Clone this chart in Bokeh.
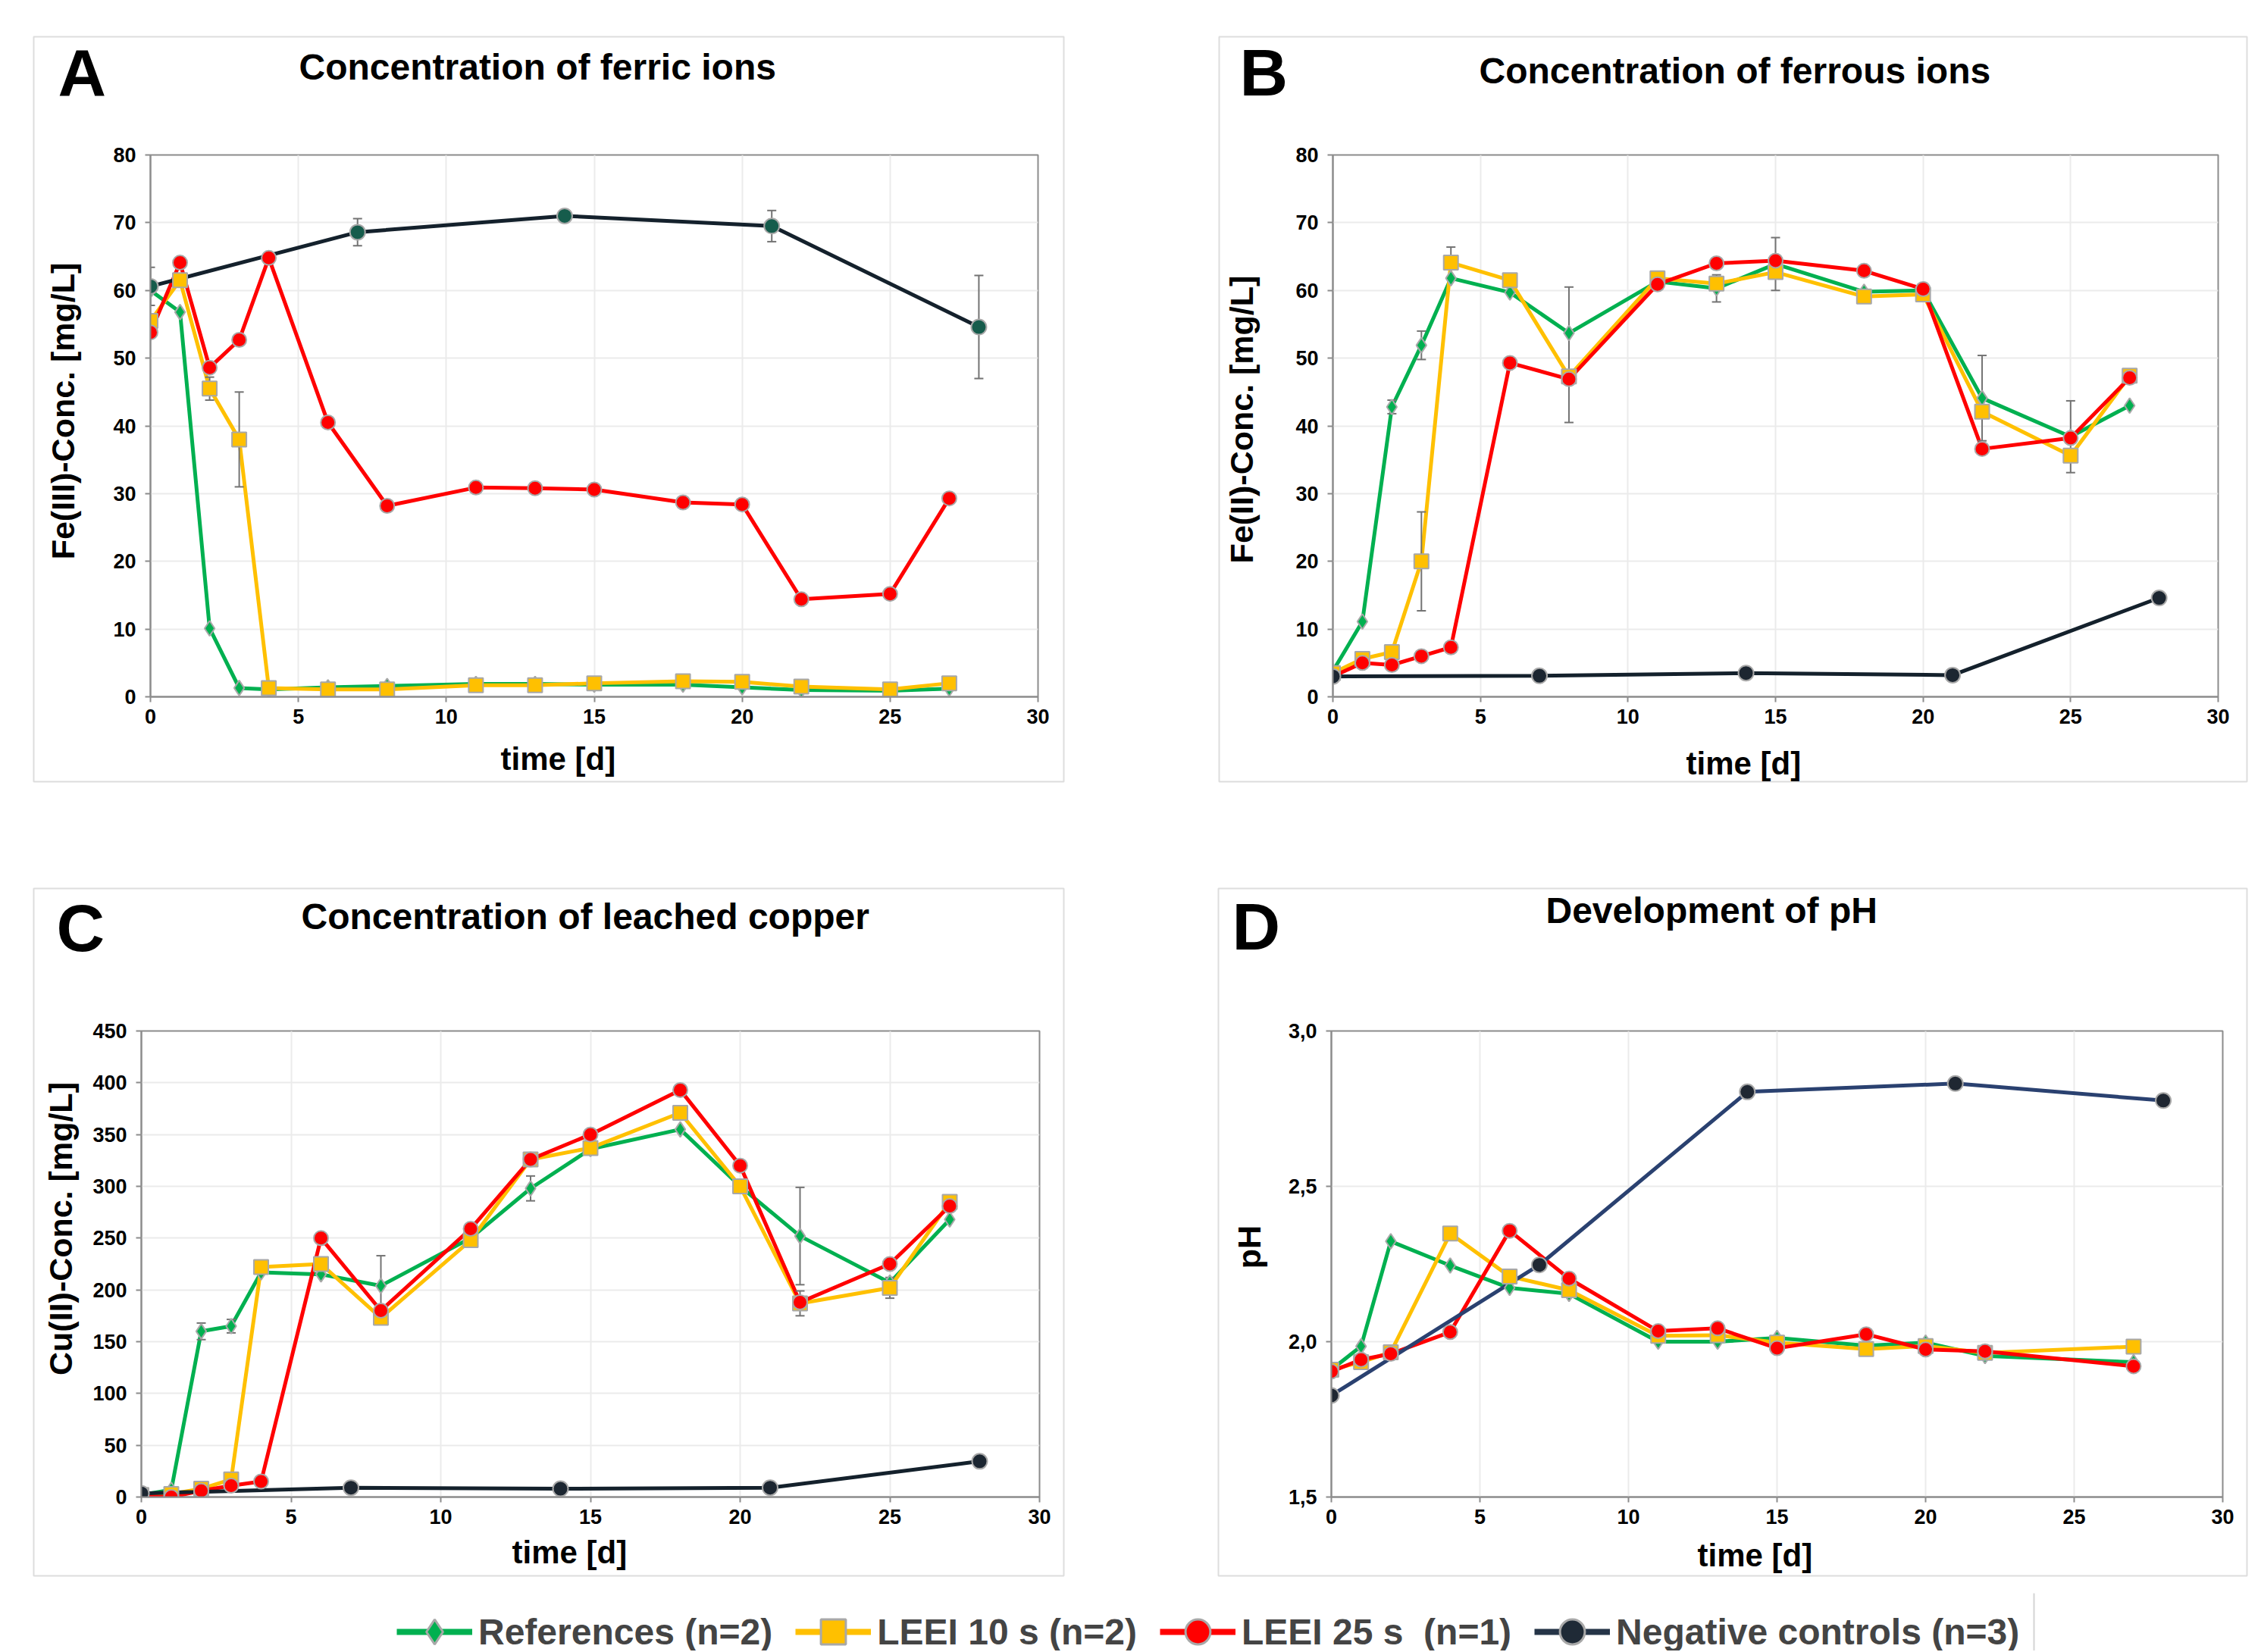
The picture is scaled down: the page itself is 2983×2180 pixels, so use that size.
import math
from bokeh.plotting import figure
from bokeh.models import (Range1d, FixedTicker, Label, Whisker, TeeHead, ColumnDataSource,
                          Legend, LegendItem, BoxAnnotation, Spacer, CustomJSTickFormatter)
from bokeh.layouts import column, row
from bokeh.embed import file_html
from bokeh.resources import INLINE
from bokeh.core.properties import value

FONT = "Liberation Sans"

# ---------------- data ----------------
x_ticks = [0, 5, 10, 15, 20, 25, 30]
days = [0, 1, 2, 3, 4, 6, 8, 11, 13, 15, 18, 20, 22, 25, 27]
days_neg = [0, 7, 14, 21, 28]
days_ph = [0, 1, 2, 4, 6, 8, 11, 13, 15, 18, 20, 22, 27]

# A: ferric ions [mg/L]
fe3_ref = [60.0, 56.8, 10.1, 1.3, 1.1, 1.4, 1.6, 1.9, 1.9, 1.8, 1.8, 1.4, 1.0, 0.9, 1.2]
fe3_l10 = [55.5, 61.5, 45.5, 38.0, 1.3, 1.1, 1.1, 1.7, 1.7, 2.0, 2.3, 2.2, 1.5, 1.1, 2.0]
fe3_l25 = [53.8, 64.1, 48.6, 52.7, 64.8, 40.5, 28.2, 30.9, 30.8, 30.6, 28.7, 28.4, 14.4, 15.2, 29.3]
fe3_neg = [60.6, 68.6, 71.0, 69.5, 54.6]
fe3_ref_err = [0, 0, 0, 0, 0, 0, 0, 0, 0, 0, 0, 0, 0, 0, 0]
fe3_l10_err = [0, 0, 1.7, 7.0, 0, 0, 0, 0, 0, 0, 0, 0, 0, 0, 0]
fe3_neg_err = [2.8, 2.0, 0.5, 2.3, 7.6]

# B: ferrous ions [mg/L]
fe2_ref = [3.8, 11.1, 42.8, 51.9, 61.8, 59.7, 53.7, 61.3, 60.3, 63.9, 59.8, 60.0, 44.1, 38.4, 43.0]
fe2_l10 = [3.5, 5.6, 6.6, 20.0, 64.1, 61.5, 47.3, 61.8, 61.0, 62.7, 59.1, 59.4, 42.1, 35.6, 47.4]
fe2_l25 = [3.0, 5.0, 4.7, 6.0, 7.3, 49.3, 46.9, 60.9, 64.0, 64.4, 62.9, 60.2, 36.6, 38.2, 47.1]
fe2_neg = [3.0, 3.1, 3.5, 3.2, 14.6]
fe2_ref_err = [0, 0, 1.0, 2.1, 0, 0, 6.8, 0, 2.0, 3.9, 0, 0, 6.3, 5.3, 0]
fe2_l10_err = [0, 0, 0, 7.3, 2.3, 0, 6.8, 0, 0, 0, 0, 0, 0, 0, 0]
fe2_neg_err = [0, 0, 0, 0, 0]

# C: leached copper [mg/L]
cu_ref = [2, 7, 160, 165, 217, 215, 204, 250, 298, 336, 355, 300, 252, 207, 268]
cu_l10 = [2, 3, 8, 17, 222, 225, 173, 248, 326, 337, 371, 300, 187, 202, 285]
cu_l25 = [1, 0, 6, 11, 15, 250, 180, 259, 326, 350, 393, 320, 188, 225, 281]
cu_neg = [3.5, 9, 8, 9, 34.5]
cu_ref_err = [0, 0, 8, 6.5, 0, 0, 29, 0, 12, 3, 0, 0, 47, 0, 0]
cu_l10_err = [0, 0, 0, 0, 0, 0, 0, 0, 0, 0, 0, 0, 12, 10, 0]
cu_neg_err = [0, 0, 0, 0, 0]

# D: pH
ph_ref = [1.91, 1.985, 2.323, 2.245, 2.173, 2.154, 2.0, 2.0, 2.012, 1.987, 1.997, 1.954, 1.934]
ph_l10 = [1.91, 1.934, 1.966, 2.348, 2.21, 2.166, 2.019, 2.021, 1.997, 1.976, 1.986, 1.964, 1.984]
ph_l25 = [1.904, 1.942, 1.961, 2.031, 2.357, 2.203, 2.034, 2.043, 1.979, 2.024, 1.975, 1.969, 1.921]
ph_neg = [1.827, 2.247, 2.804, 2.831, 2.776]

ticks_fe = [0, 10, 20, 30, 40, 50, 60, 70, 80]
ticks_cu = [0, 50, 100, 150, 200, 250, 300, 350, 400, 450]
ticks_ph = [1.5, 2.0, 2.5, 3.0]

series_names = ["References (n=2)", "LEEI 10 s (n=2)", "LEEI 25 s  (n=1)", "Negative controls (n=3)"]
panel_letters = ["A", "B", "C", "D"]
panel_titles = ["Concentration of ferric ions", "Concentration of ferrous ions",
                "Concentration of leached copper", "Development of pH"]
y_labels = ["Fe(III)-Conc. [mg/L]", "Fe(II)-Conc. [mg/L]", "Cu(II)-Conc. [mg/L]", "pH"]
x_label = "time [d]"

# ---------------- styles ----------------
GREEN, YELLOW, RED = "#00b050", "#ffc000", "#ff0000"
OUTL = "#a8a8a8"
AXC = "#8c8c8c"
GRIDC = "#ebebeb"
BOXC = "#8e8e8e"

# page geometry: outer box (x, y, w, h); plot frame (left, top, right, bottom)
OUTER = [(43, 47, 1361, 985), (1607, 47, 1358, 985), (43, 1171, 1361, 909), (1606, 1171, 1359, 909)]
FRAME = [(198, 204, 1369, 919), (1758, 195, 2926, 929), (186, 1354, 1371, 1985), (1756, 1360, 2932, 1975)]
# text anchors (page px): letter (left, baseline), title (left, baseline),
# x label (left, baseline), y label (baseline x, centre y)
POS_LETTER = [(76, 128), (1635, 128), (74, 1257), (1625, 1255)]
POS_TITLE = [(394, 106), (1951, 111), (397, 1227), (2039, 1219)]
POS_XLAB = [(660, 1017), (2224, 1023), (675, 2064), (2239, 2068)]
POS_YLAB = [(99, 542), (1654, 553), (96, 1621), (1664, 1645)]
BASE_SHIFT = 0.38  # rendered baseline correction, in em


def make_panel(k, yr, yticks, ref, l10, l25, neg, dx, dneg, errs, neg_line, neg_mark, ph=False):
    ox, oy, ow, oh = OUTER[k]
    fl, ft, fr, fb = FRAME[k]
    mbl = fl - ox
    mbt = ft - oy
    mbr = ow - mbl - (fr - fl)
    mbb = oh - mbt - (fb - ft)
    p = figure(width=ow, height=oh, x_range=Range1d(0, 30), y_range=Range1d(*yr),
               output_backend="svg", toolbar_location=None,
               min_border_left=mbl, min_border_right=mbr,
               min_border_top=mbt, min_border_bottom=mbb,
               background_fill_color="white", border_fill_color="white")
    p.outline_line_color = AXC
    p.outline_line_width = 2
    for ax, tk in ((p.xaxis, x_ticks), (p.yaxis, yticks)):
        ax.ticker = FixedTicker(ticks=tk)
        ax.axis_line_color = AXC
        ax.axis_line_width = 2
        ax.major_tick_line_color = AXC
        ax.major_tick_line_width = 2
        ax.major_tick_out = 7
        ax.major_tick_in = 0
        ax.minor_tick_line_color = None
        ax.major_label_text_font = FONT
        ax.major_label_text_font_style = "bold"
        ax.major_label_text_font_size = "27px"
        ax.major_label_text_color = "black"
    p.xaxis.major_label_standoff = 9
    p.yaxis.major_label_standoff = 12
    if ph:
        p.yaxis.formatter = CustomJSTickFormatter(code="return tick.toFixed(1).replace('.', ',');")
    p.xgrid.ticker = FixedTicker(ticks=x_ticks)
    p.ygrid.ticker = FixedTicker(ticks=yticks)
    for g in (p.xgrid, p.ygrid):
        g.grid_line_color = GRIDC
        g.grid_line_width = 2

    # Excel-like order: all lines, error bars, then all markers
    p.line(dx, ref, line_color=GREEN, line_width=5)
    p.line(dx, l10, line_color=YELLOW, line_width=5)
    p.line(dx, l25, line_color=RED, line_width=5)
    p.line(dneg, neg, line_color=neg_line, line_width=5)

    for xs, ys, es in errs:
        sel = [i for i, e in enumerate(es) if e > 0]
        if not sel:
            continue
        src = ColumnDataSource(dict(
            x=[xs[i] for i in sel],
            upper=[ys[i] + es[i] for i in sel],
            lower=[ys[i] - es[i] for i in sel]))
        w = Whisker(source=src, base="x", upper="upper", lower="lower",
                    line_color="#737373", line_width=2, level="glyph",
                    upper_head=TeeHead(size=12, line_color="#737373", line_width=2),
                    lower_head=TeeHead(size=12, line_color="#737373", line_width=2))
        p.renderers.append(w)

    p.scatter(dx, ref, marker="diamond", size=20, fill_color=GREEN, line_color=OUTL, line_width=2)
    p.scatter(dx, l10, marker="square", size=19, fill_color=YELLOW, line_color=OUTL, line_width=2)
    p.scatter(dx, l25, marker="circle", size=19, fill_color=RED, line_color=OUTL, line_width=2)
    p.scatter(dneg, neg, marker="circle", size=20, fill_color=neg_mark, line_color=OUTL, line_width=2)
    return p


pA = make_panel(0, (0, 80), ticks_fe, fe3_ref, fe3_l10, fe3_l25, fe3_neg, days, days_neg,
                [(days, fe3_ref, fe3_ref_err), (days, fe3_l10, fe3_l10_err), (days_neg, fe3_neg, fe3_neg_err)],
                "#14212c", "#165c4c")
pB = make_panel(1, (0, 80), ticks_fe, fe2_ref, fe2_l10, fe2_l25, fe2_neg, days, days_neg,
                [(days, fe2_ref, fe2_ref_err), (days, fe2_l10, fe2_l10_err), (days_neg, fe2_neg, fe2_neg_err)],
                "#14212c", "#1c2631")
pC = make_panel(2, (0, 450), ticks_cu, cu_ref, cu_l10, cu_l25, cu_neg, days, days_neg,
                [(days, cu_ref, cu_ref_err), (days, cu_l10, cu_l10_err), (days_neg, cu_neg, cu_neg_err)],
                "#14212c", "#1c2631")
pD = make_panel(3, (1.5, 3.0), ticks_ph, ph_ref, ph_l10, ph_l25, ph_neg, days_ph, days_neg,
                [], "#2a4170", "#1f2732", ph=True)

main = column(
    Spacer(height=OUTER[0][1]),
    row(Spacer(width=OUTER[0][0]), pA, Spacer(width=OUTER[1][0] - OUTER[0][0] - OUTER[0][2]), pB),
    Spacer(height=OUTER[2][1] - OUTER[0][1] - OUTER[0][3]),
    row(Spacer(width=OUTER[2][0]), pC, Spacer(width=OUTER[3][0] - OUTER[2][0] - OUTER[2][2]), pD),
)
MAIN_H = OUTER[2][1] + OUTER[2][3]

# ---------------- transparent overlay: frames, titles, axis titles, legend ----------------
OVW, OVH = 2975, 2178
ov = figure(width=OVW, height=OVH, x_range=Range1d(1000, 1001), y_range=Range1d(1000, 1001),
            output_backend="svg", toolbar_location=None, x_axis_type=None, y_axis_type=None,
            min_border=0, outline_line_color=None,
            background_fill_color=None, border_fill_color=None,
            styles={"margin-top": f"-{MAIN_H}px"})
ov.grid.visible = False


def lab(txt, pos, fs, rotated=False):
    px, py = pos
    if rotated:
        x, y = px - BASE_SHIFT * fs, OVH - py
        angle, align = math.pi / 2, "center"
    else:
        x, y = px, OVH - (py - BASE_SHIFT * fs)
        angle, align = 0.0, "left"
    ov.add_layout(Label(x=x, y=y, x_units="screen", y_units="screen",
                        text=txt, text_font=FONT, text_font_style="bold",
                        text_font_size=f"{fs}px", text_align=align,
                        text_baseline="alphabetic", angle=angle, text_color="black"))


for k in range(4):
    ox, oy, ow, oh = OUTER[k]
    ov.add_layout(BoxAnnotation(left=ox + 1, right=ox + ow - 1, top=OVH - oy - 1, bottom=OVH - oy - oh + 1,
                                left_units="screen", right_units="screen",
                                top_units="screen", bottom_units="screen",
                                fill_color=None, fill_alpha=0, line_color=BOXC, line_width=2))
    lab(panel_letters[k], POS_LETTER[k], 88)
    lab(panel_titles[k], POS_TITLE[k], 48)
    lab(x_label, POS_XLAB[k], 42)
    lab(y_labels[k], POS_YLAB[k], 43, rotated=True)

# legend proxies use the pH data, kept outside the overlay's visible range
leg_styles = [(GREEN, "diamond", GREEN), (YELLOW, "square", YELLOW), (RED, "circle", RED),
              ("#253447", "circle", "#1f2a36")]
leg_data = [(days_ph, ph_ref), (days_ph, ph_l10), (days_ph, ph_l25), (days_neg, ph_neg)]
items = []
for name, (lc, mk, fc), (xs, ys) in zip(series_names, leg_styles, leg_data):
    r1 = ov.line(xs, ys, line_color=lc, line_width=8)
    r2 = ov.scatter(xs, ys, marker=mk, size=30, fill_color=fc, line_color=OUTL, line_width=3)
    items.append(LegendItem(label=value(name), renderers=[r1, r2]))
LEG_H = 82
legend = Legend(items=items, orientation="horizontal", location=(523, OVH - 2153 - LEG_H // 2),
                glyph_width=100, glyph_height=LEG_H, label_standoff=8, spacing=30,
                padding=0, margin=0, border_line_color=None, background_fill_alpha=0,
                label_text_font=FONT, label_text_font_style="bold", label_text_font_size="48px")
ov.add_layout(legend, "center")
# thin vertical separator at the right end of the legend row
ov.add_layout(BoxAnnotation(left=2682, right=2684, top=OVH - 2102, bottom=0,
                            left_units="screen", right_units="screen",
                            top_units="screen", bottom_units="screen",
                            fill_color="#d4d4d4", fill_alpha=1, line_color=None))

layout = column(main, ov)

open("out.html", "w").write(file_html(layout, INLINE))
